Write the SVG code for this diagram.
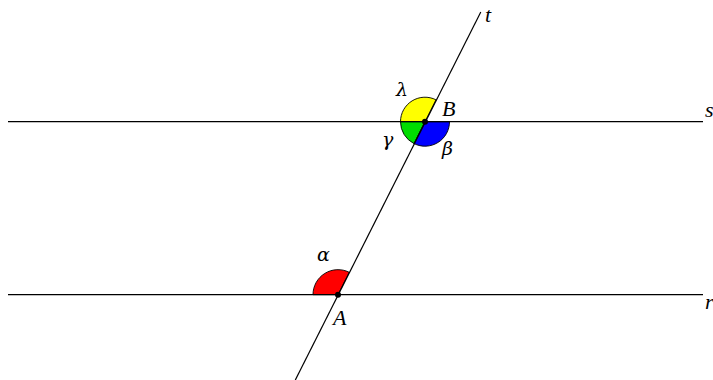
<svg xmlns="http://www.w3.org/2000/svg" width="713" height="380" viewBox="0 0 713 380">
<style>
.ln{stroke:#000;stroke-width:1.2;fill:none}
.sec{stroke:#000;stroke-width:0.9}
.lbl{font-family:"Liberation Serif","DejaVu Serif",serif;font-style:italic;font-size:22px;fill:#000}
.gr{font-family:"DejaVu Serif","Liberation Serif",serif;font-style:italic;font-size:19px;fill:#000}
</style>
<rect width="713" height="380" fill="#fff"/>
<g id="angles">
<path class="sec" fill="#ffff00" d="M425,121.7 L400.5,121.7 A24.5,24.5 0 0 1 435.98,99.8 Z"/>
<path class="sec" fill="#00dd00" d="M425,121.7 L400.5,121.7 A24.5,24.5 0 0 0 414.02,143.6 Z"/>
<path class="sec" fill="#0000ff" d="M425,121.7 L414.02,143.6 A24.5,24.5 0 0 0 449.5,121.7 Z"/>
<path class="sec" fill="#ff0000" d="M338,294.7 L313,294.7 A25,25 0 0 1 349.2,272.3 Z"/>
</g>
<g id="connectors">
<line id="line-s" class="ln" x1="8" y1="121.7" x2="703" y2="121.7"/>
<line id="line-r" class="ln" x1="8" y1="294.7" x2="703" y2="294.7"/>
<line id="line-t" class="ln" x1="295.3" y1="380" x2="480.8" y2="12"/>
</g>
<g id="node-B">
<circle cx="425" cy="121.7" r="3" fill="#000"/>
<text class="lbl" x="442" y="116">B</text>
</g>
<g id="node-A">
<circle cx="338" cy="294.7" r="3" fill="#000"/>
<text class="lbl" x="333" y="325">A</text>
</g>
<g id="labels">
<text class="lbl" x="485" y="22">t</text>
<text class="lbl" x="705" y="117">s</text>
<text class="lbl" x="705" y="309">r</text>
<text class="gr" x="396" y="96">λ</text>
<text class="gr" x="382" y="146">γ</text>
<text class="gr" x="442" y="155">β</text>
<text class="gr" x="317" y="261">α</text>
</g>
</svg>
